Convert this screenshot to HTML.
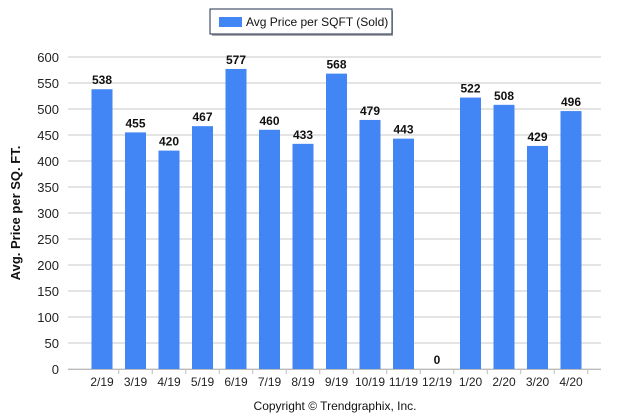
<!DOCTYPE html>
<html><head><style>
body{margin:0;background:#fff;}
svg{font-family:"Liberation Sans",sans-serif;display:block;}
</style></head><body>
<svg id="c" width="623" height="419">
<g>
<rect x="212" y="11" width="181" height="25" fill="#555" opacity="0.5"/>
<rect x="210" y="9" width="182" height="25" fill="#fff" stroke="#1f2d4d" stroke-width="1"/>
<rect x="219" y="17" width="23" height="10" fill="#4285f4"/>
<text x="246" y="26" font-size="12" fill="#111">Avg Price per SQFT (Sold)</text>
</g>
<text transform="translate(20,213) rotate(-90)" text-anchor="middle" font-size="13" font-weight="bold" fill="#111">Avg. Price per SQ. FT.</text>
<text x="335" y="410" text-anchor="middle" font-size="12" fill="#111">Copyright © Trendgraphix, Inc.</text>
<g id="grid"></g><g id="bars"></g>
</svg>
<script>
const categories=["2/19","3/19","4/19","5/19","6/19","7/19","8/19","9/19","10/19","11/19","12/19","1/20","2/20","3/20","4/20"];
const values=[538,455,420,467,577,460,433,568,479,443,0,522,508,429,496];
const yTicks=[0,50,100,150,200,250,300,350,400,450,500,550,600];
const NS="http://www.w3.org/2000/svg";
const y0=369,y1=57,left=68,right=601;
const y=v=>y0-(v/600)*(y0-y1);
const x=i=>102+33.5*i;
function mk(t,a,p){const e=document.createElementNS(NS,t);for(const k in a)e.setAttribute(k,a[k]);p.appendChild(e);return e;}
const g=document.getElementById('grid'),b=document.getElementById('bars');
yTicks.forEach(t=>{
const l=mk('line',{x1:left,x2:right,y1:y(t),y2:y(t),stroke:'#c8c8c8'},g);


const tx=mk('text',{x:59,y:y(t)+5,'text-anchor':'end','font-size':13,fill:'#222'},g);
tx.textContent=t;


});
const ax=mk('line',{x1:left,x2:right,y1:y0+0.5,y2:y0+0.5,stroke:'#bbb'},g);


categories.forEach((c,i)=>{
const cx=x(i),v=values[i];
const tk=mk('line',{x1:cx+16.75,x2:cx+16.75,y1:y0,y2:y0+5,stroke:'#bbb'},g);


const r=mk('rect',{x:cx-10.5,y:y(v),width:21,height:y0-y(v),fill:'#4285f4'},b);


const vl=mk('text',{x:cx,y:y(v)-5,'text-anchor':'middle','font-size':12,'font-weight':'bold',fill:'#111'},b);
vl.textContent=v;


const xl=mk('text',{x:cx,y:386,'text-anchor':'middle','font-size':12,fill:'#222'},b);
xl.textContent=c;


});
</script>
</body></html>
